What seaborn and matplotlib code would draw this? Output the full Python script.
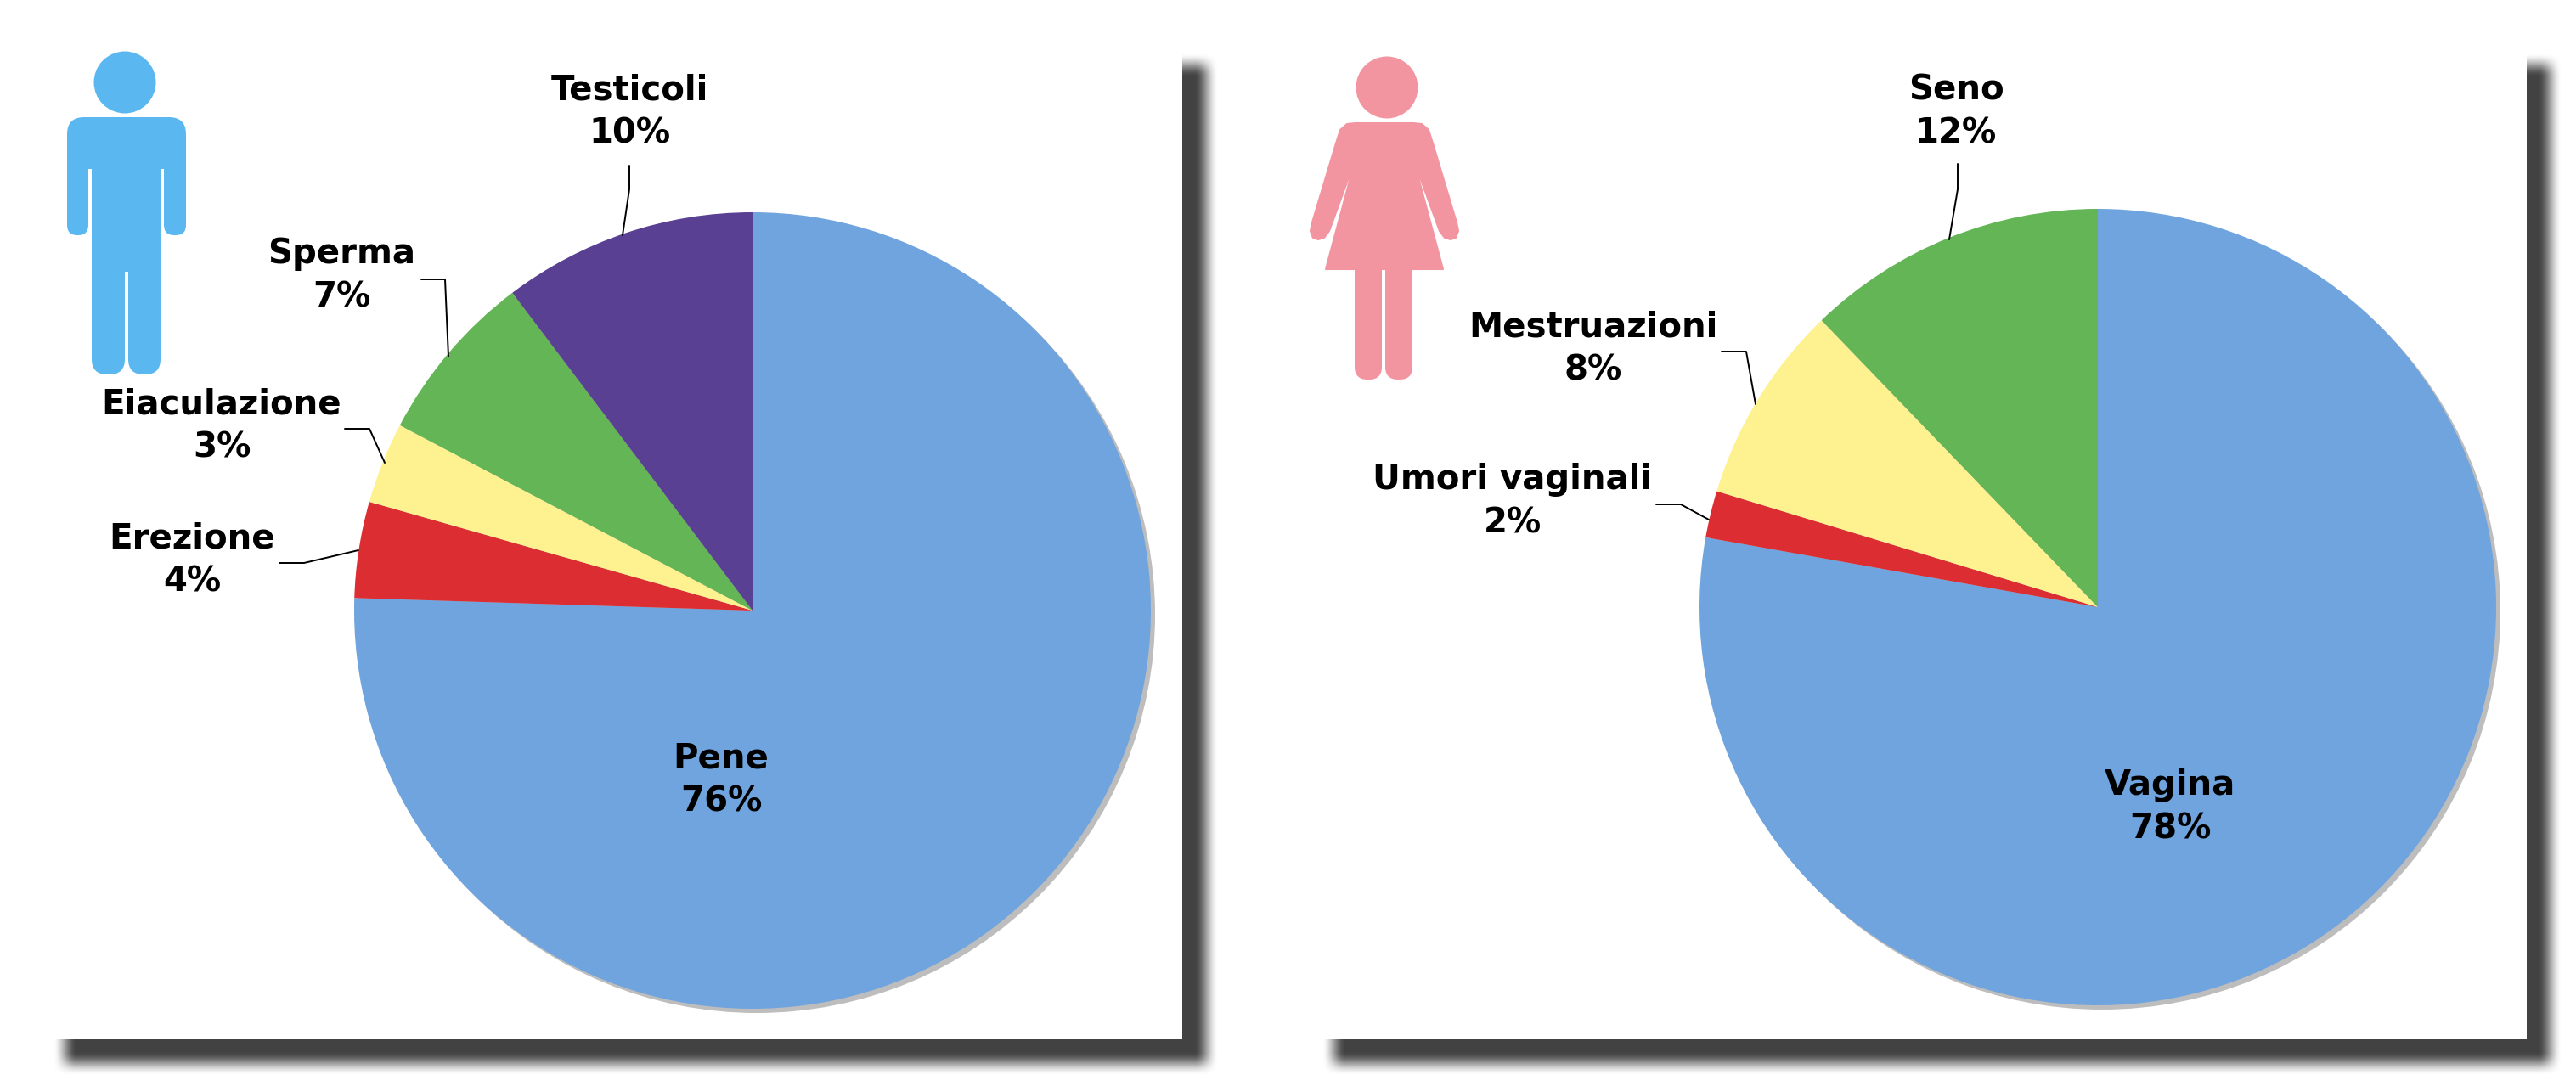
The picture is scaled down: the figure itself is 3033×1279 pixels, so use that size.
import numpy as np
import matplotlib
matplotlib.use("Agg")
import matplotlib.pyplot as plt
from matplotlib.patches import Circle, Ellipse, FancyBboxPatch, Polygon, Rectangle
import seaborn as sns

# Dati
labels_m = ["Pene", "Erezione", "Eiaculazione", "Sperma", "Testicoli"]
values_m = [75.5, 3.9, 3.3, 7.0, 10.3]
shown_m = ["76%", "4%", "3%", "7%", "10%"]
colors_m = ["#70A4DE", "#DC2D33", "#FDF28F", "#63B556", "#594092"]

labels_f = ["Vagina", "Umori vaginali", "Mestruazioni", "Seno"]
values_f = [77.8, 1.9, 8.1, 12.2]
shown_f = ["78%", "2%", "8%", "12%"]
colors_f = ["#70A4DE", "#DC2D33", "#FDF28F", "#63B556"]

W, H = 3033, 1279

sns.set_theme(style="white")
plt.rcParams["font.family"] = ["DejaVu Sans"]

fig = plt.figure(figsize=(W / 100, H / 100), dpi=100, facecolor="white")


def pixel_axes(zorder):
    ax = fig.add_axes([0, 0, 1, 1], zorder=zorder)
    ax.set_xlim(0, W)
    ax.set_ylim(H, 0)
    ax.axis("off")
    return ax


def edge(t, mid, width):
    # rampa morbida per l'ombra
    s = np.clip((t - mid) / width + 0.5, 0, 1)
    return s * s * (3 - 2 * s)


def shadow(ax, x0, y0, x1, y1):
    xs = np.arange(W)
    ys = np.arange(H)
    ax_ = edge(xs, x0, 28) * (1 - edge(xs, x1, 28))
    ay_ = edge(ys, y0, 28) * (1 - edge(ys, y1, 28))
    rgba = np.zeros((H, W, 4))
    rgba[..., :3] = 0x42 / 255
    rgba[..., 3] = np.outer(ay_, ax_)
    ax.imshow(rgba, extent=(0, W, H, 0), interpolation="bilinear", aspect="auto", zorder=1)
    ax.set_xlim(0, W)
    ax.set_ylim(H, 0)


def rbox(ax, x0, y0, x1, y1, r, color):
    ax.add_patch(FancyBboxPatch((x0 + r, y0 + r), x1 - x0 - 2 * r, y1 - y0 - 2 * r,
                                boxstyle=f"round,pad={r},rounding_size={r}",
                                fc=color, ec="none", zorder=5))


def draw_pie(cx, cy, r, values, colors):
    m = 1.01
    ax = fig.add_axes([(cx - r * m) / W, 1 - (cy + r * m) / H, 2 * r * m / W, 2 * r * m / H], zorder=2)
    ax.pie(values, colors=sns.color_palette(colors), startangle=90, counterclock=False,
           radius=1, wedgeprops={"linewidth": 0})
    ax.set_xlim(-m, m)
    ax.set_ylim(-m, m)
    ax.set_aspect("auto")
    ax.axis("off")


bg = pixel_axes(0)
fg = pixel_axes(3)

# ombre e pannelli bianchi
shadow(bg, 76, 76, 1420, 1252)
shadow(bg, 1570, 76, 3002, 1252)
bg.add_patch(Rectangle((0, 0), 1392, 1224, fc="white", ec="none", zorder=2))
bg.add_patch(Rectangle((1500, 0), 2975 - 1500, 1224, fc="white", ec="none", zorder=2))

# bordo grigio delle torte
bg.add_patch(Circle((891, 724), 469, fc="#BDBDBD", ec="none", zorder=3))
bg.add_patch(Circle((2475, 720), 469, fc="#BDBDBD", ec="none", zorder=3))

draw_pie(886, 719, 469, values_m, colors_m)
draw_pie(2470, 715, 469, values_f, colors_f)

# etichette
pos_m = [(849, 919), (226, 660), (261, 502), (402, 325), (741, 132)]
pos_f = [(2555, 951), (1781, 591), (1876, 411), (2303, 132)]
for name, pct, (x, y) in zip(labels_m + labels_f, shown_m + shown_f, pos_m + pos_f):
    fg.text(x, y, f"{name}\n{pct}", ha="center", va="center", fontsize=29, fontweight="bold",
            color="black", linespacing=1.37)

# linee guida
leaders = [
    [(741, 195), (741, 223), (733, 277)],
    [(496, 329), (524, 329), (528, 420)],
    [(406, 505), (435, 505), (453, 545)],
    [(329, 663), (358, 663), (422, 648)],
    [(2305, 193), (2305, 223), (2295, 282)],
    [(2027, 414), (2056, 414), (2067, 476)],
    [(1950, 594), (1979, 594), (2012, 612)],
]
for line in leaders:
    xs, ys = zip(*line)
    fg.plot(xs, ys, color="black", lw=1.4)

# omino
blue = "#5AB7F0"
fg.add_patch(Ellipse((147, 97), 73, 73, fc=blue, ec="none", zorder=5))
rbox(fg, 79, 138, 219, 215, 20, blue)
rbox(fg, 79, 180, 104, 277, 12, blue)
rbox(fg, 193, 180, 219, 277, 12, blue)
fg.add_patch(Rectangle((104, 160), 90, 40, fc=blue, ec="none", zorder=5))
fg.add_patch(Rectangle((104, 199), 4, 80, fc="white", ec="none", zorder=5))
fg.add_patch(Rectangle((189, 199), 4, 80, fc="white", ec="none", zorder=5))
fg.add_patch(Rectangle((108, 150), 81, 170, fc=blue, ec="none", zorder=5))
rbox(fg, 108, 300, 147, 441, 18, blue)
rbox(fg, 151, 300, 189, 441, 18, blue)

# donnina
pink = "#F295A0"
fg.add_patch(Ellipse((1633, 103), 73, 73, fc=pink, ec="none", zorder=5))
half = np.array([(34, 145), (44, 146), (52, 153), (58, 172), (85, 262), (87, 272), (84, 280), (78, 282),
                 (71, 280), (65, 272), (42, 209), (40, 209), (69, 317)], dtype=float)
outline = np.vstack([half * [1, 1] + [1630, 0], (half * [-1, 1] + [1630, 0])[::-1]])
fg.add_patch(Polygon(outline, closed=True, fc=pink, ec=pink, lw=1.5, joinstyle="round", zorder=5))
fg.add_patch(Rectangle((1595, 310), 32, 30, fc=pink, ec="none", zorder=5))
fg.add_patch(Rectangle((1631, 310), 32, 30, fc=pink, ec="none", zorder=5))
rbox(fg, 1595, 318, 1627, 447, 15, pink)
rbox(fg, 1631, 318, 1663, 447, 15, pink)

fig.savefig("out.png", dpi=100, facecolor="white")
